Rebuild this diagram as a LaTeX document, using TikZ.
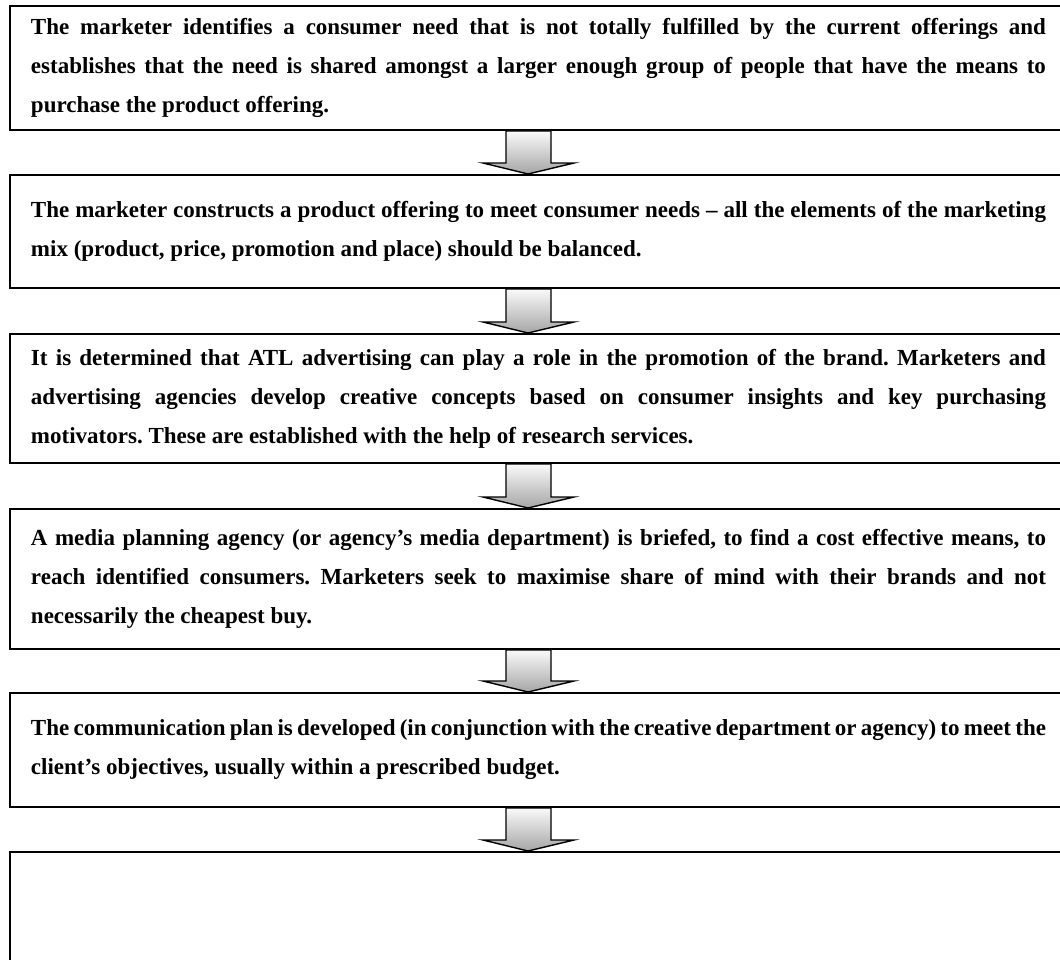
\documentclass[tikz,border=0pt]{standalone}
\usepackage{fontspec}
\setmainfont{Liberation Serif}
\usetikzlibrary{calc}

% block arrow between two stacked boxes: #1 upper box, #2 lower box
\newcommand\flowarrow[2]{%
  \path[flowfill]
    ($(#1.south west)+(497,0)$) -- ($(#1.south west)+(542,0)$)
    -- ($(#2.north west)+(542,-11)$) -- ($(#2.north west)+(565,-11)$)
    -- ($(#2.north west)+(519,0)$)
    -- ($(#2.north west)+(474,-11)$) -- ($(#2.north west)+(497,-11)$)
    -- cycle;}

% justified bold body text without hyphenation
\newcommand\stagefont{\bfseries\fontsize{11.5pt}{19.5pt}\selectfont
  \frenchspacing\hyphenpenalty=10000\exhyphenpenalty=10000
  \spaceskip=0.25em plus 0.8em minus 0.1em}

\begin{document}
\begin{tikzpicture}[x=0.5pt,y=-0.5pt,
  stagebox/.style={draw=black, line width=1pt, rectangle, anchor=north west,
    text width=507.5pt, inner xsep=10.5pt, inner ysep=0pt, align=justify,
    font=\stagefont},
  flowfill/.style={draw=black, line width=0.7pt, line join=miter,
    top color=gray!4, bottom color=gray!70}]
\useasboundingbox (0,0) rectangle (1060,959);

\node[stagebox, minimum height=62pt] (s1) at (9,5)
  {The marketer identifies a consumer need that is not totally fulfilled by the current offerings and\linebreak
   establishes that the need is shared amongst a larger enough group of people that have the means to\linebreak
   purchase the product offering.};

\node[stagebox, minimum height=56.5pt] (s2) at (9,174)
  {The marketer constructs a product offering to meet consumer needs \textendash{} all the elements of the marketing\linebreak
   mix (product, price, promotion and place) should be balanced.};

\node[stagebox, minimum height=64.5pt] (s3) at (9,333)
  {It is determined that ATL advertising can play a role in the promotion of the brand. Marketers and\linebreak
   advertising agencies develop creative concepts based on consumer insights and key purchasing\linebreak
   motivators. These are established with the help of research services.};

\node[stagebox, minimum height=70pt] (s4) at (9,508)
  {A media planning agency (or agency’s media department) is briefed, to find a cost effective means, to\linebreak
   reach identified consumers. Marketers seek to maximise share of mind with their brands and not\linebreak
   necessarily the cheapest buy.};

\node[stagebox, minimum height=57pt] (s5) at (9,692)
  {The communication plan is developed (in conjunction with the creative department or agency) to meet the\linebreak
   client’s objectives, usually within a prescribed budget.};

\node[stagebox, minimum height=70pt] (s6) at (9,851) {};

\flowarrow{s1}{s2}
\flowarrow{s2}{s3}
\flowarrow{s3}{s4}
\flowarrow{s4}{s5}
\flowarrow{s5}{s6}
\end{tikzpicture}
\end{document}
